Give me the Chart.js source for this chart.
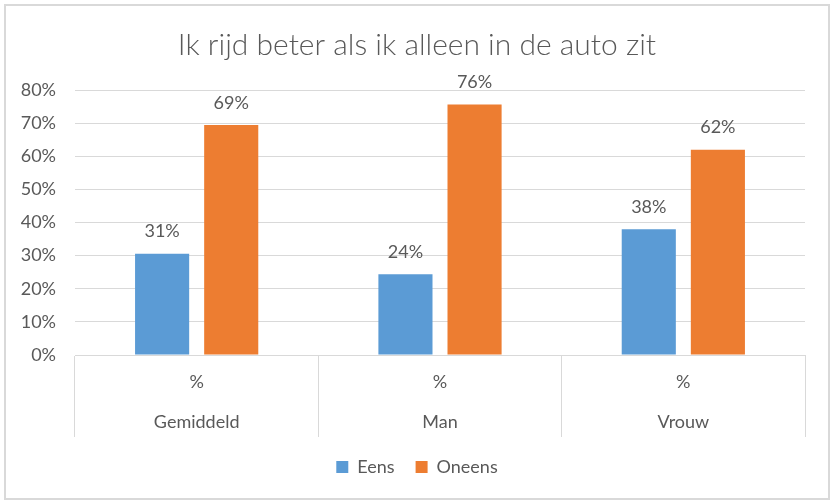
<!DOCTYPE html>
<html>
<head>
<meta charset="utf-8">
<script src="https://cdn.jsdelivr.net/npm/chart.js@4/dist/chart.umd.min.js"></script>
<style>
  body { margin: 0; background: #fff; }
  #wrap { position: relative; width: 834px; height: 504px; }
  #frame { position: absolute; left: 4px; top: 4px; width: 822px; height: 492px; border: 2px solid #d9d9d9; pointer-events: none; }
</style>
</head>
<body>
<div id="wrap">
  <canvas id="chart" width="834" height="504"></canvas>
  <div id="frame"></div>
</div>
<script>
'use strict';

var title = 'Ik rijd beter als ik alleen in de auto zit';
var groups = ['Gemiddeld', 'Man', 'Vrouw'];
var subLabel = '%';
var eens = [30.6, 24.4, 38.0];
var oneens = [69.4, 75.6, 62.0];
var seriesNames = ['Eens', 'Oneens'];
var colors = ['#5b9bd5', '#ed7d31'];

(function () {

  var font = 'Lato, Calibri, "Open Sans", sans-serif';
  var grey = '#595959';
  var lineGrey = '#d9d9d9';

  var labels = groups.map(function (g) {
    return [subLabel, g];
  });

  // value labels above each bar
  var valueLabels = {
    id: 'valueLabels',
    afterDatasetsDraw: function (chart) {
      var ctx = chart.ctx;
      ctx.save();
      ctx.font = '18px ' + font;
      ctx.fillStyle = grey;
      ctx.textAlign = 'center';
      ctx.textBaseline = 'middle';
      chart.data.datasets.forEach(function (ds, i) {
        chart.getDatasetMeta(i).data.forEach(function (bar, j) {
          ctx.fillText(Math.round(ds.data[j]) + '%', bar.x, bar.y - 22);
        });
      });
      ctx.restore();
    }
  };

  var ctx = document.getElementById('chart').getContext('2d');

  return new Chart(ctx, {
    type: 'bar',
    data: {
      labels: labels,
      datasets: [{
        label: seriesNames[0],
        data: eens,
        backgroundColor: colors[0]
      }, {
        label: seriesNames[1],
        data: oneens,
        backgroundColor: colors[1]
      }]
    },
    plugins: [valueLabels],
    options: {
      responsive: false,
      animation: false,
      categoryPercentage: 0.568,
      barPercentage: 0.783,
      layout: { padding: { left: 0, right: 0, top: 0, bottom: 18 } },
      plugins: {
        tooltip: { enabled: false },
        title: {
          display: true,
          text: title,
          color: grey,
          font: { family: font, size: 30, weight: 300, lineHeight: 1.2 },
          padding: { top: 27, bottom: 27 }
        },
        legend: {
          position: 'bottom',
          labels: {
            color: grey,
            font: { family: font, size: 18 },
            boxWidth: 12,
            boxHeight: 12,
            padding: 21
          }
        }
      },
      scales: {
        x: {
          grid: {
            offset: true,
            drawOnChartArea: false,
            drawTicks: true,
            tickLength: 82,
            color: lineGrey
          },
          border: { display: true, color: lineGrey },
          ticks: {
            color: grey,
            font: { family: font, size: 18, lineHeight: 2.22 },
            padding: -75,
            maxRotation: 0
          },
          afterFit: function (scale) {
            scale.height = 82;
          }
        },
        y: {
          min: 0,
          max: 80,
          grid: { color: lineGrey, drawTicks: false },
          border: { display: false },
          ticks: {
            stepSize: 10,
            color: grey,
            font: { family: font, size: 18 },
            padding: 19,
            callback: function (v) { return v + '%'; }
          },
          afterFit: function (scale) {
            scale.width = 75;
          }
        },
        // empty right-hand axis keeps the plot edge at x=805
        yRight: {
          position: 'right',
          display: true,
          grid: { display: false },
          border: { display: false },
          ticks: { display: false },
          afterFit: function (scale) {
            scale.width = 29;
          }
        }
      }
    }
  });

})();
</script>
</body>
</html>
